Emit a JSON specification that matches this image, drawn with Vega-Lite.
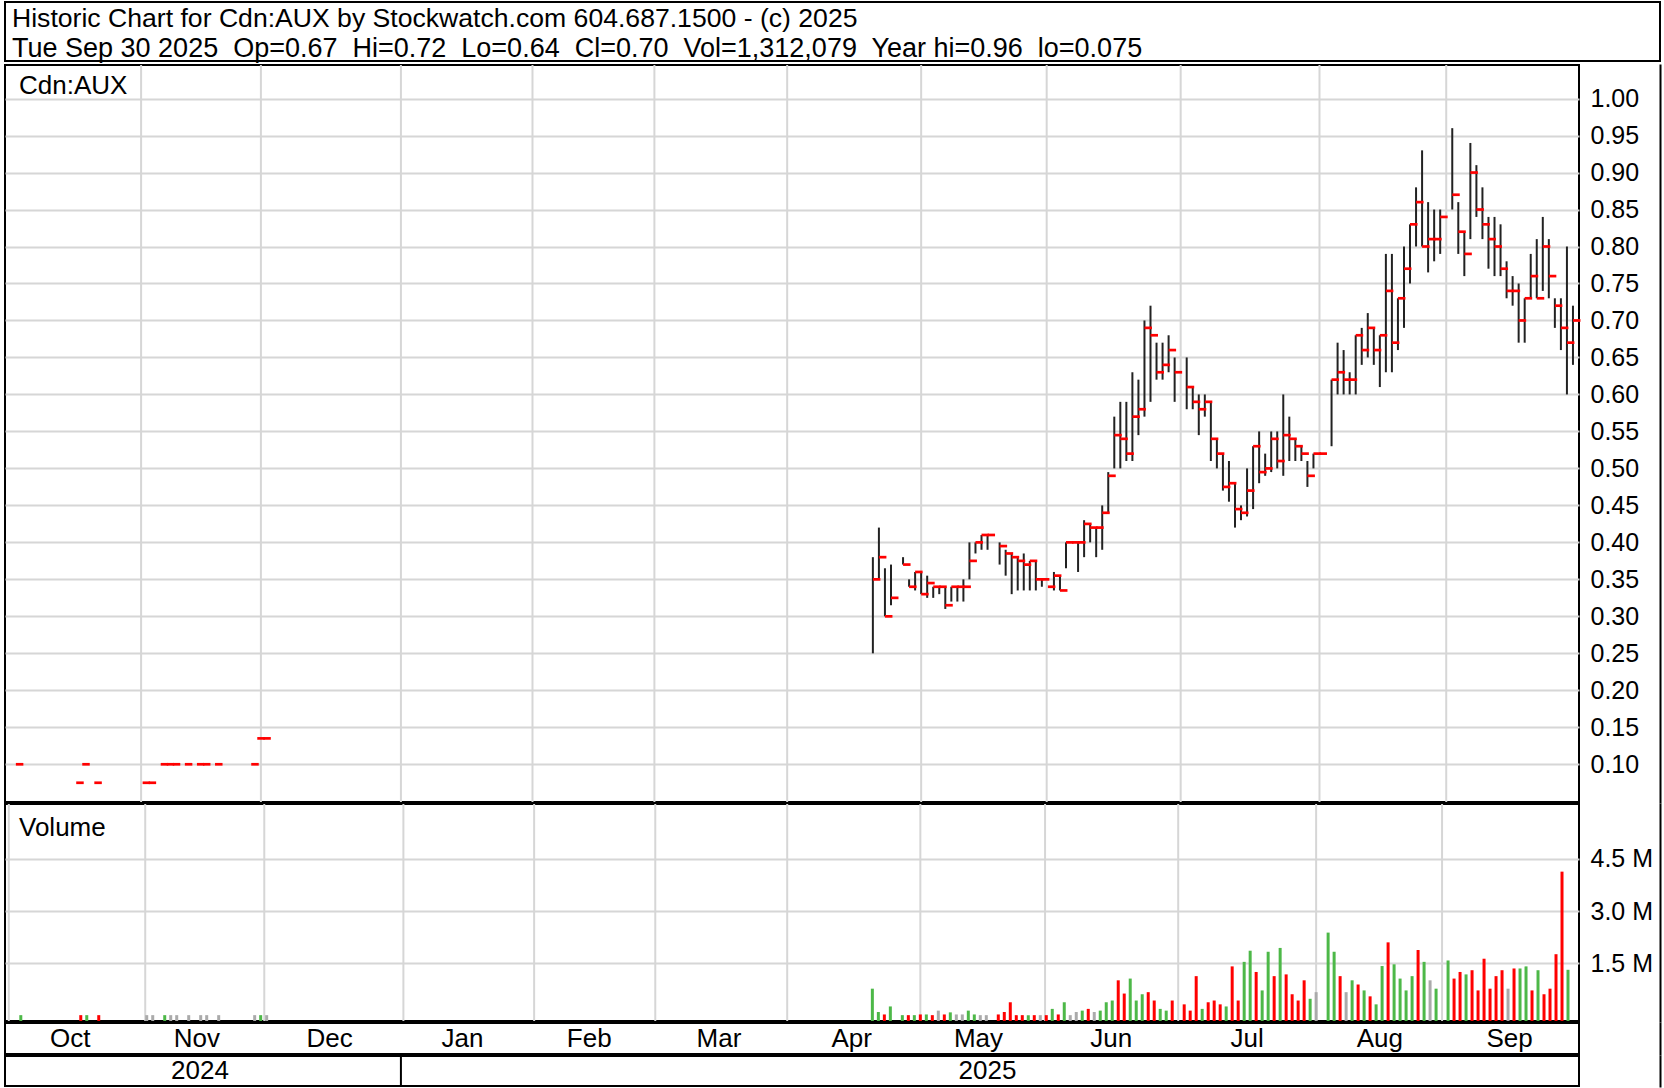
{
  "$schema": "https://vega.github.io/schema/vega-lite/v6.json",
  "padding": {"left": 4, "top": 1, "right": 2, "bottom": 1},
  "background": "white",
  "spacing": 0,
  "config": {
    "font": "Liberation Sans",
    "view": {"stroke": "#000000", "strokeWidth": 2},
    "axis": {"labelFontSize": 25, "labelColor": "#000000", "labelFont": "Liberation Sans", "gridColor": "#d6d6d6", "gridWidth": 2, "gridOpacity": 1, "ticks": false, "domain": false, "labelPadding": 11},
    "title": {"fontWeight": "normal", "color": "#000000", "font": "Liberation Sans"}
  },
  "datasets": {
    "months": [
      {"m": "Oct", "start": 0, "mid": 11},
      {"m": "Nov", "start": 22.75, "mid": 32},
      {"m": "Dec", "start": 42.6, "mid": 54},
      {"m": "Jan", "start": 65.8, "mid": 76},
      {"m": "Feb", "start": 87.6, "mid": 97},
      {"m": "Mar", "start": 107.8, "mid": 118.5},
      {"m": "Apr", "start": 129.8, "mid": 140.5},
      {"m": "May", "start": 152, "mid": 161.5},
      {"m": "Jun", "start": 172.8, "mid": 183.5},
      {"m": "Jul", "start": 195, "mid": 206},
      {"m": "Aug", "start": 218, "mid": 228},
      {"m": "Sep", "start": 239, "mid": 249.5}
    ],
    "years": [
      {"y": "2024", "start": 0, "mid": 32.5},
      {"y": "2025", "start": 65.8, "mid": 163}
    ],
    "bars": [
      {"i": 2, "h": 0.1, "l": 0.1, "c": 0.1, "v": 10000, "dir": "up"},
      {"i": 12, "h": 0.075, "l": 0.075, "c": 0.075, "v": 10000, "dir": "down"},
      {"i": 13, "h": 0.1, "l": 0.1, "c": 0.1, "v": 10000, "dir": "up"},
      {"i": 15, "h": 0.075, "l": 0.075, "c": 0.075, "v": 10000, "dir": "down"},
      {"i": 23, "h": 0.075, "l": 0.075, "c": 0.075, "v": 10000, "dir": "flat"},
      {"i": 24, "h": 0.075, "l": 0.075, "c": 0.075, "v": 10000, "dir": "flat"},
      {"i": 26, "h": 0.1, "l": 0.1, "c": 0.1, "v": 10000, "dir": "up"},
      {"i": 27, "h": 0.1, "l": 0.1, "c": 0.1, "v": 10000, "dir": "flat"},
      {"i": 28, "h": 0.1, "l": 0.1, "c": 0.1, "v": 10000, "dir": "flat"},
      {"i": 30, "h": 0.1, "l": 0.1, "c": 0.1, "v": 10000, "dir": "flat"},
      {"i": 32, "h": 0.1, "l": 0.1, "c": 0.1, "v": 10000, "dir": "flat"},
      {"i": 33, "h": 0.1, "l": 0.1, "c": 0.1, "v": 10000, "dir": "flat"},
      {"i": 35, "h": 0.1, "l": 0.1, "c": 0.1, "v": 10000, "dir": "flat"},
      {"i": 41, "h": 0.1, "l": 0.1, "c": 0.1, "v": 10000, "dir": "flat"},
      {"i": 42, "h": 0.135, "l": 0.135, "c": 0.135, "v": 10000, "dir": "up"},
      {"i": 43, "h": 0.135, "l": 0.135, "c": 0.135, "v": 10000, "dir": "flat"},
      {"i": 144, "h": 0.38, "l": 0.25, "c": 0.35, "v": 770000, "dir": "up"},
      {"i": 145, "h": 0.42, "l": 0.35, "c": 0.38, "v": 100000, "dir": "up"},
      {"i": 146, "h": 0.365, "l": 0.3, "c": 0.3, "v": 30000, "dir": "down"},
      {"i": 147, "h": 0.37, "l": 0.315, "c": 0.325, "v": 260000, "dir": "up"},
      {"i": 149, "h": 0.38, "l": 0.37, "c": 0.37, "v": 10000, "dir": "up"},
      {"i": 150, "h": 0.35, "l": 0.34, "c": 0.34, "v": 10000, "dir": "down"},
      {"i": 151, "h": 0.36, "l": 0.335, "c": 0.36, "v": 10000, "dir": "up"},
      {"i": 152, "h": 0.36, "l": 0.33, "c": 0.33, "v": 30000, "dir": "down"},
      {"i": 153, "h": 0.355, "l": 0.325, "c": 0.345, "v": 30000, "dir": "up"},
      {"i": 154, "h": 0.34, "l": 0.325, "c": 0.34, "v": 10000, "dir": "down"},
      {"i": 155, "h": 0.34, "l": 0.33, "c": 0.34, "v": 140000, "dir": "flat"},
      {"i": 156, "h": 0.34, "l": 0.31, "c": 0.315, "v": 30000, "dir": "down"},
      {"i": 157, "h": 0.34, "l": 0.32, "c": 0.34, "v": 90000, "dir": "up"},
      {"i": 158, "h": 0.34, "l": 0.32, "c": 0.34, "v": 30000, "dir": "flat"},
      {"i": 159, "h": 0.35, "l": 0.32, "c": 0.34, "v": 30000, "dir": "flat"},
      {"i": 160, "h": 0.4, "l": 0.35, "c": 0.375, "v": 140000, "dir": "up"},
      {"i": 161, "h": 0.4, "l": 0.385, "c": 0.4, "v": 30000, "dir": "up"},
      {"i": 162, "h": 0.41, "l": 0.39, "c": 0.41, "v": 10000, "dir": "flat"},
      {"i": 163, "h": 0.41, "l": 0.39, "c": 0.41, "v": 10000, "dir": "flat"},
      {"i": 165, "h": 0.4, "l": 0.37, "c": 0.395, "v": 30000, "dir": "down"},
      {"i": 166, "h": 0.39, "l": 0.355, "c": 0.385, "v": 100000, "dir": "down"},
      {"i": 167, "h": 0.385, "l": 0.33, "c": 0.38, "v": 380000, "dir": "down"},
      {"i": 168, "h": 0.38, "l": 0.335, "c": 0.375, "v": 10000, "dir": "down"},
      {"i": 169, "h": 0.385, "l": 0.335, "c": 0.37, "v": 10000, "dir": "down"},
      {"i": 170, "h": 0.375, "l": 0.335, "c": 0.375, "v": 10000, "dir": "up"},
      {"i": 171, "h": 0.375, "l": 0.335, "c": 0.35, "v": 10000, "dir": "down"},
      {"i": 172, "h": 0.35, "l": 0.34, "c": 0.35, "v": 10000, "dir": "flat"},
      {"i": 173, "h": 0.34, "l": 0.34, "c": 0.34, "v": 10000, "dir": "down"},
      {"i": 174, "h": 0.36, "l": 0.335, "c": 0.355, "v": 190000, "dir": "up"},
      {"i": 175, "h": 0.355, "l": 0.335, "c": 0.335, "v": 30000, "dir": "down"},
      {"i": 176, "h": 0.4, "l": 0.365, "c": 0.4, "v": 380000, "dir": "up"},
      {"i": 177, "h": 0.4, "l": 0.4, "c": 0.4, "v": 10000, "dir": "flat"},
      {"i": 178, "h": 0.4, "l": 0.36, "c": 0.4, "v": 100000, "dir": "flat"},
      {"i": 179, "h": 0.43, "l": 0.38, "c": 0.425, "v": 140000, "dir": "up"},
      {"i": 180, "h": 0.425, "l": 0.4, "c": 0.42, "v": 190000, "dir": "down"},
      {"i": 181, "h": 0.42, "l": 0.38, "c": 0.42, "v": 100000, "dir": "flat"},
      {"i": 182, "h": 0.45, "l": 0.39, "c": 0.44, "v": 140000, "dir": "up"},
      {"i": 183, "h": 0.495, "l": 0.44, "c": 0.49, "v": 380000, "dir": "up"},
      {"i": 184, "h": 0.57, "l": 0.5, "c": 0.545, "v": 430000, "dir": "up"},
      {"i": 185, "h": 0.59, "l": 0.5, "c": 0.54, "v": 1010000, "dir": "down"},
      {"i": 186, "h": 0.59, "l": 0.51, "c": 0.52, "v": 630000, "dir": "down"},
      {"i": 187, "h": 0.63, "l": 0.51, "c": 0.57, "v": 1060000, "dir": "up"},
      {"i": 188, "h": 0.62, "l": 0.545, "c": 0.58, "v": 430000, "dir": "up"},
      {"i": 189, "h": 0.7, "l": 0.57, "c": 0.69, "v": 610000, "dir": "up"},
      {"i": 190, "h": 0.72, "l": 0.59, "c": 0.68, "v": 670000, "dir": "down"},
      {"i": 191, "h": 0.67, "l": 0.62, "c": 0.63, "v": 430000, "dir": "down"},
      {"i": 192, "h": 0.67, "l": 0.62, "c": 0.64, "v": 190000, "dir": "up"},
      {"i": 193, "h": 0.68, "l": 0.63, "c": 0.66, "v": 140000, "dir": "up"},
      {"i": 194, "h": 0.65, "l": 0.59, "c": 0.63, "v": 430000, "dir": "down"},
      {"i": 196, "h": 0.65, "l": 0.58, "c": 0.61, "v": 320000, "dir": "down"},
      {"i": 197, "h": 0.61, "l": 0.58, "c": 0.59, "v": 140000, "dir": "down"},
      {"i": 198, "h": 0.6, "l": 0.545, "c": 0.58, "v": 1130000, "dir": "down"},
      {"i": 199, "h": 0.6, "l": 0.57, "c": 0.59, "v": 190000, "dir": "up"},
      {"i": 200, "h": 0.59, "l": 0.51, "c": 0.54, "v": 380000, "dir": "down"},
      {"i": 201, "h": 0.54, "l": 0.5, "c": 0.52, "v": 430000, "dir": "down"},
      {"i": 202, "h": 0.52, "l": 0.47, "c": 0.475, "v": 320000, "dir": "down"},
      {"i": 203, "h": 0.51, "l": 0.455, "c": 0.48, "v": 260000, "dir": "up"},
      {"i": 204, "h": 0.48, "l": 0.42, "c": 0.445, "v": 1410000, "dir": "down"},
      {"i": 205, "h": 0.45, "l": 0.43, "c": 0.44, "v": 430000, "dir": "down"},
      {"i": 206, "h": 0.5, "l": 0.435, "c": 0.47, "v": 1540000, "dir": "up"},
      {"i": 207, "h": 0.53, "l": 0.445, "c": 0.53, "v": 1860000, "dir": "up"},
      {"i": 208, "h": 0.55, "l": 0.48, "c": 0.495, "v": 1250000, "dir": "down"},
      {"i": 209, "h": 0.52, "l": 0.49, "c": 0.5, "v": 720000, "dir": "up"},
      {"i": 210, "h": 0.55, "l": 0.495, "c": 0.54, "v": 1830000, "dir": "up"},
      {"i": 211, "h": 0.55, "l": 0.5, "c": 0.51, "v": 1130000, "dir": "down"},
      {"i": 212, "h": 0.6, "l": 0.49, "c": 0.545, "v": 1940000, "dir": "up"},
      {"i": 213, "h": 0.57, "l": 0.51, "c": 0.54, "v": 1180000, "dir": "down"},
      {"i": 214, "h": 0.54, "l": 0.51, "c": 0.53, "v": 610000, "dir": "down"},
      {"i": 215, "h": 0.53, "l": 0.51, "c": 0.52, "v": 430000, "dir": "down"},
      {"i": 216, "h": 0.51, "l": 0.475, "c": 0.49, "v": 1010000, "dir": "down"},
      {"i": 217, "h": 0.52, "l": 0.5, "c": 0.52, "v": 480000, "dir": "up"},
      {"i": 218, "h": 0.52, "l": 0.52, "c": 0.52, "v": 670000, "dir": "flat"},
      {"i": 220, "h": 0.62, "l": 0.53, "c": 0.62, "v": 2380000, "dir": "up"},
      {"i": 221, "h": 0.67, "l": 0.6, "c": 0.63, "v": 1830000, "dir": "up"},
      {"i": 222, "h": 0.66, "l": 0.6, "c": 0.62, "v": 1130000, "dir": "down"},
      {"i": 223, "h": 0.63, "l": 0.6, "c": 0.62, "v": 670000, "dir": "flat"},
      {"i": 224, "h": 0.68, "l": 0.6, "c": 0.68, "v": 1010000, "dir": "up"},
      {"i": 225, "h": 0.69, "l": 0.64, "c": 0.66, "v": 890000, "dir": "down"},
      {"i": 226, "h": 0.71, "l": 0.65, "c": 0.69, "v": 720000, "dir": "up"},
      {"i": 227, "h": 0.69, "l": 0.64, "c": 0.66, "v": 550000, "dir": "down"},
      {"i": 228, "h": 0.68, "l": 0.61, "c": 0.68, "v": 320000, "dir": "up"},
      {"i": 229, "h": 0.79, "l": 0.63, "c": 0.74, "v": 1420000, "dir": "up"},
      {"i": 230, "h": 0.79, "l": 0.63, "c": 0.67, "v": 2100000, "dir": "down"},
      {"i": 231, "h": 0.73, "l": 0.66, "c": 0.73, "v": 1470000, "dir": "up"},
      {"i": 232, "h": 0.8, "l": 0.69, "c": 0.77, "v": 1060000, "dir": "up"},
      {"i": 233, "h": 0.83, "l": 0.75, "c": 0.83, "v": 720000, "dir": "up"},
      {"i": 234, "h": 0.88, "l": 0.8, "c": 0.86, "v": 1130000, "dir": "up"},
      {"i": 235, "h": 0.93, "l": 0.8, "c": 0.8, "v": 1880000, "dir": "down"},
      {"i": 236, "h": 0.86, "l": 0.765, "c": 0.81, "v": 1540000, "dir": "up"},
      {"i": 237, "h": 0.85, "l": 0.78, "c": 0.81, "v": 1010000, "dir": "flat"},
      {"i": 238, "h": 0.85, "l": 0.79, "c": 0.84, "v": 770000, "dir": "up"},
      {"i": 240, "h": 0.96, "l": 0.85, "c": 0.87, "v": 1580000, "dir": "up"},
      {"i": 241, "h": 0.86, "l": 0.79, "c": 0.82, "v": 1060000, "dir": "down"},
      {"i": 242, "h": 0.82, "l": 0.76, "c": 0.79, "v": 1250000, "dir": "down"},
      {"i": 243, "h": 0.94, "l": 0.81, "c": 0.9, "v": 1180000, "dir": "up"},
      {"i": 244, "h": 0.91, "l": 0.84, "c": 0.85, "v": 1300000, "dir": "down"},
      {"i": 245, "h": 0.88, "l": 0.81, "c": 0.83, "v": 720000, "dir": "down"},
      {"i": 246, "h": 0.84, "l": 0.77, "c": 0.81, "v": 1630000, "dir": "down"},
      {"i": 247, "h": 0.84, "l": 0.76, "c": 0.8, "v": 770000, "dir": "down"},
      {"i": 248, "h": 0.83, "l": 0.76, "c": 0.77, "v": 1130000, "dir": "down"},
      {"i": 249, "h": 0.78, "l": 0.73, "c": 0.74, "v": 1300000, "dir": "down"},
      {"i": 250, "h": 0.76, "l": 0.72, "c": 0.74, "v": 770000, "dir": "flat"},
      {"i": 251, "h": 0.75, "l": 0.67, "c": 0.7, "v": 1350000, "dir": "down"},
      {"i": 252, "h": 0.73, "l": 0.67, "c": 0.73, "v": 1350000, "dir": "up"},
      {"i": 253, "h": 0.79, "l": 0.73, "c": 0.76, "v": 1410000, "dir": "up"},
      {"i": 254, "h": 0.81, "l": 0.73, "c": 0.73, "v": 720000, "dir": "down"},
      {"i": 255, "h": 0.84, "l": 0.74, "c": 0.8, "v": 1300000, "dir": "up"},
      {"i": 256, "h": 0.81, "l": 0.73, "c": 0.76, "v": 610000, "dir": "down"},
      {"i": 257, "h": 0.73, "l": 0.69, "c": 0.72, "v": 770000, "dir": "down"},
      {"i": 258, "h": 0.73, "l": 0.66, "c": 0.69, "v": 1760000, "dir": "down"},
      {"i": 259, "h": 0.8, "l": 0.6, "c": 0.67, "v": 4130000, "dir": "down"},
      {"i": 260, "h": 0.72, "l": 0.64, "c": 0.7, "v": 1312079, "dir": "up"}
    ]
  },
  "vconcat": [
    {
      "width": 1655,
      "height": 59,
      "view": {"stroke": "#000000", "strokeWidth": 2, "fill": "white"},
      "title": {
        "text": "Historic Chart for Cdn:AUX by Stockwatch.com 604.687.1500 - (c) 2025",
        "subtitle": "Tue Sep 30 2025\u00a0 Op=0.67\u00a0 Hi=0.72\u00a0 Lo=0.64\u00a0 Cl=0.70\u00a0 Vol=1,312,079\u00a0 Year hi=0.96\u00a0 lo=0.075",
        "anchor": "start", "frame": "group", "orient": "top", "baseline": "top",
        "offset": -60.2, "dx": 7,
        "fontSize": 26.6, "fontWeight": "normal", "color": "#000000", "font": "Liberation Sans",
        "subtitleFontSize": 27, "subtitleFont": "Liberation Sans", "subtitleColor": "#000000", "subtitleFontWeight": "normal", "subtitlePadding": 3.3
      },
      "data": {"values": [{}]},
      "mark": {"type": "text", "text": ""},
      "encoding": {}
    },
    {
      "width": 1574,
      "height": 737,
      "title": {"text": "Cdn:AUX", "anchor": "start", "frame": "group", "orient": "top", "baseline": "top", "offset": -33.5, "dx": 14, "fontSize": 26, "fontWeight": "normal", "color": "#000000"},
      "layer": [
        {
          "data": {"name": "months"},
          "mark": {"type": "rule", "color": "#d6d6d6", "strokeWidth": 2, "clip": true},
          "encoding": {"x": {"field": "start", "type": "quantitative", "scale": {"domain": [0.2, 261], "nice": false, "zero": false}, "axis": null}}
        },
        {
          "data": {"name": "bars"},
          "mark": {"type": "rule", "color": "#222222", "strokeWidth": 2},
          "encoding": {
            "x": {"field": "i", "type": "quantitative", "scale": {"domain": [0.2, 261], "nice": false, "zero": false}, "axis": null},
            "y": {"field": "l", "type": "quantitative", "scale": {"domain": [0.049, 1.0454], "nice": false, "zero": false},
                  "axis": {"orient": "right", "values": [0.1, 0.15, 0.2, 0.25, 0.3, 0.35, 0.4, 0.45, 0.5, 0.55, 0.6, 0.65, 0.7, 0.75, 0.8, 0.85, 0.9, 0.95, 1.0], "format": ".2f", "grid": true, "title": null, "offset": 81, "labelPadding": -70, "domain": true, "domainColor": "#000000", "domainWidth": 2, "domainCap": "square"}},
            "y2": {"field": "h"}
          }
        },
        {
          "data": {"name": "bars"},
          "mark": {"type": "tick", "orient": "horizontal", "color": "#ff0000", "opacity": 1, "size": 7.5, "thickness": 2.7, "xOffset": 3.75},
          "encoding": {
            "x": {"field": "i", "type": "quantitative", "scale": {"domain": [0.2, 261], "nice": false, "zero": false}, "axis": null},
            "y": {"field": "c", "type": "quantitative", "scale": {"domain": [0.049, 1.0454], "nice": false, "zero": false},
                  "axis": {"orient": "right", "values": [0.1, 0.15, 0.2, 0.25, 0.3, 0.35, 0.4, 0.45, 0.5, 0.55, 0.6, 0.65, 0.7, 0.75, 0.8, 0.85, 0.9, 0.95, 1.0], "format": ".2f", "grid": true, "title": null, "offset": 81, "labelPadding": -70, "domain": true, "domainColor": "#000000", "domainWidth": 2, "domainCap": "square"}}
          }
        }
      ]
    },
    {
      "width": 1574,
      "height": 217,
      "title": {"text": "Volume", "anchor": "start", "frame": "group", "orient": "top", "baseline": "top", "offset": -37.2, "dx": 14, "fontSize": 26, "fontWeight": "normal", "color": "#000000"},
      "layer": [
        {
          "data": {"name": "months"},
          "mark": {"type": "rule", "color": "#d6d6d6", "strokeWidth": 2, "clip": true},
          "encoding": {"x": {"field": "start", "type": "quantitative", "scale": {"domain": [0.2, 261], "nice": false, "zero": false}, "axis": null}}
        },
        {
          "data": {"name": "bars"},
          "mark": {"type": "bar", "width": 3},
          "encoding": {
            "x": {"field": "i", "type": "quantitative", "scale": {"domain": [0.2, 261], "nice": false, "zero": false}, "axis": null},
            "y": {"field": "v", "type": "quantitative", "scale": {"domain": [-158000, 6072000], "nice": false, "zero": false},
                  "axis": {"orient": "right", "values": [1500000, 3000000, 4500000], "labelExpr": "format(datum.value / 1000000, '.1f') + ' M'", "grid": true, "title": null, "offset": 81, "labelPadding": -70, "domain": true, "domainColor": "#000000", "domainWidth": 2, "domainCap": "square"}},
            "y2": {"datum": -158000},
            "color": {"field": "dir", "type": "nominal", "scale": {"domain": ["up", "down", "flat"], "range": ["#4db848", "#ff0000", "#aaaaaa"]}, "legend": null}
          }
        }
      ]
    },
    {
      "width": 1574,
      "height": 31,
      "data": {"name": "months"},
      "mark": {"type": "text", "fontSize": 26, "color": "#000000"},
      "encoding": {
        "x": {"field": "mid", "type": "quantitative", "scale": {"domain": [0.2, 261], "nice": false, "zero": false}, "axis": null},
        "y": {"datum": 0.5, "type": "quantitative", "scale": {"domain": [0, 1], "nice": false, "zero": false},
              "axis": {"orient": "right", "offset": 81, "labels": false, "grid": false, "ticks": false, "title": null, "domain": true, "domainColor": "#000000", "domainWidth": 2, "domainCap": "square"}},
        "text": {"field": "m"}
      }
    },
    {
      "width": 1574,
      "height": 30,
      "data": {"name": "years"},
      "layer": [
        {
          "mark": {"type": "rule", "color": "#000000", "strokeWidth": 2, "clip": true},
          "encoding": {"x": {"field": "start", "type": "quantitative", "scale": {"domain": [0.2, 261], "nice": false, "zero": false}, "axis": null}}
        },
        {
          "mark": {"type": "text", "fontSize": 26, "color": "#000000"},
          "encoding": {
            "x": {"field": "mid", "type": "quantitative", "scale": {"domain": [0.2, 261], "nice": false, "zero": false}, "axis": null},
            "y": {"datum": 0.5, "type": "quantitative", "scale": {"domain": [0, 1], "nice": false, "zero": false},
                  "axis": {"orient": "right", "offset": 81, "labels": false, "grid": false, "ticks": false, "title": null, "domain": true, "domainColor": "#000000", "domainWidth": 2, "domainCap": "square"}},
            "text": {"field": "y"}
          }
        }
      ]
    }
  ]
}
